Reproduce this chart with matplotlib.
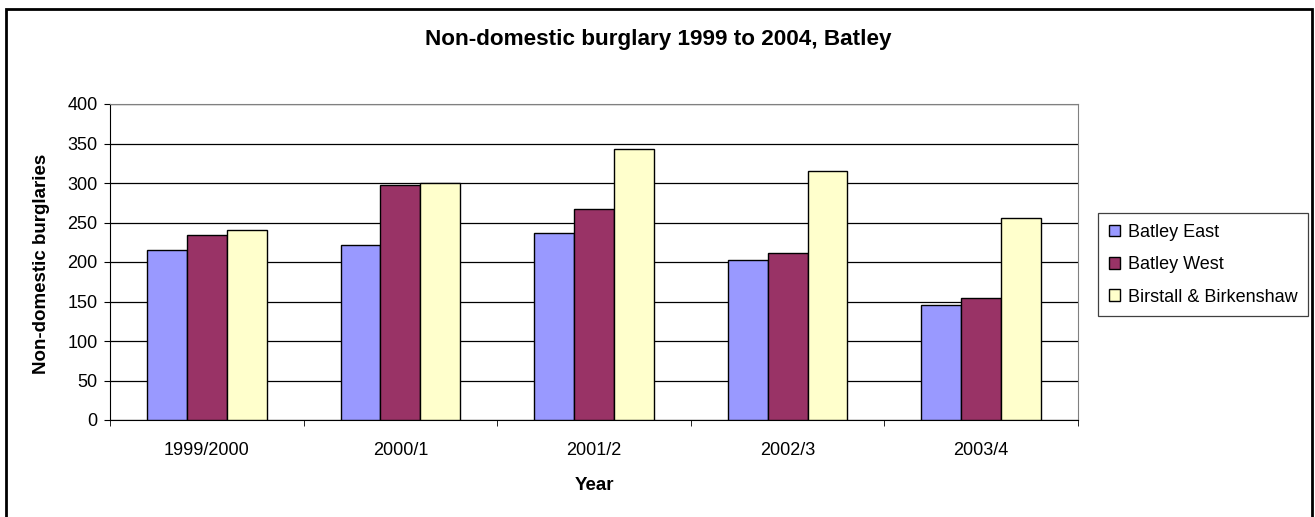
import matplotlib.pyplot as plt
import numpy as np
from matplotlib.patches import Rectangle

plt.rcParams['font.family'] = ['Liberation Sans', 'DejaVu Sans']

years = ['1999/2000', '2000/1', '2001/2', '2002/3', '2003/4']
batley_east = [215, 222, 237, 202, 145]
batley_west = [234, 298, 267, 212, 154]
birstall = [241, 300, 343, 315, 256]

series = [('Batley East', batley_east, '#9999FF'),
          ('Batley West', batley_west, '#993366'),
          ('Birstall & Birkenshaw', birstall, '#FFFFCC')]

W, H = 1315, 517
fig = plt.figure(figsize=(W / 100, H / 100), dpi=100)
# outer chart border (bottom edge runs off the image)
fig.patches.append(Rectangle((6 / W, -0.05), 1306 / W, 1.05 - 9 / H, transform=fig.transFigure,
                             fill=False, edgecolor='black', linewidth=2))

ax = fig.add_axes([110 / W, 1 - 420 / H, 968 / W, 316 / H])
x = np.arange(len(years))
w = 0.206
for i, (name, vals, col) in enumerate(series):
    ax.bar(x + (i - 1) * w, vals, w, color=col, edgecolor='black', linewidth=1.0,
           label=name, zorder=3)

ax.set_xlim(-0.5, len(years) - 0.5)
ax.set_ylim(0, 400)
ax.set_yticks(np.arange(0, 401, 50))
ax.set_xticks(x)
ax.set_xticklabels(years)
ax.set_xticks(np.arange(-0.5, len(years), 1), minor=True)
ax.tick_params(axis='x', which='major', length=0, pad=15.5, labelsize=13)
ax.tick_params(axis='x', which='minor', length=4, direction='out')
ax.tick_params(axis='y', length=4, direction='out', pad=5, labelsize=13)
ax.grid(axis='y', color='black', linewidth=0.9, zorder=0)
for s in ['top', 'right']:
    ax.spines[s].set_color('#808080')
for s in ['left', 'bottom']:
    ax.spines[s].set_color('black')

fig.text(594 / W, 1 - 485 / H, 'Year', ha='center', va='center', fontsize=13.5, fontweight='bold')
fig.text(42 / W, 1 - 264 / H, 'Non-domestic burglaries', ha='center', va='center',
         rotation=90, fontsize=13.5, fontweight='bold')
fig.text(658 / W, 1 - 40 / H, 'Non-domestic burglary 1999 to 2004, Batley', ha='center', va='center',
         fontsize=16.2, fontweight='bold')

leg = fig.legend(loc='upper left', bbox_to_anchor=(1098 / W, 1 - 213 / H), fontsize=13,
                 fancybox=False, edgecolor='#404040', framealpha=1,
                 handlelength=0.6, handleheight=0.6, handletextpad=0.45,
                 labelspacing=0.85, borderpad=0.6, borderaxespad=0)
leg.get_frame().set_linewidth(0.9)

fig.savefig('out.png', dpi=100)
